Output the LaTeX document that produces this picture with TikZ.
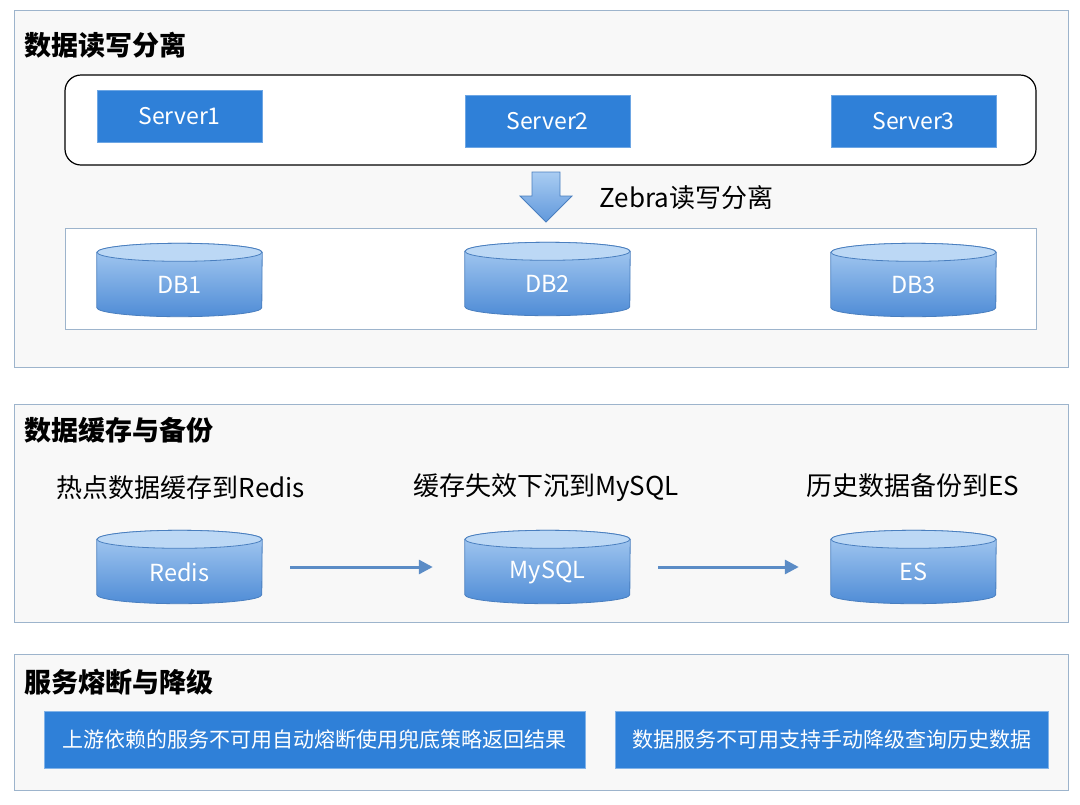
\documentclass[tikz,border=0pt]{standalone}
\usepackage{fontspec}
\setmainfont{Noto Sans CJK SC}
\usetikzlibrary{arrows.meta}
\definecolor{panelbd}{HTML}{9DB4CC}
\definecolor{panelbg}{HTML}{F8F8F8}
\definecolor{srvblue}{HTML}{2F80D8}
\definecolor{cyltopc}{HTML}{BCD8F5}
\definecolor{cylhi}{HTML}{A9CCF2}
\definecolor{cyllo}{HTML}{4F8CD6}
\definecolor{cylbd}{HTML}{4A7FBF}
\definecolor{arrc}{HTML}{5B8CC6}
\tikzset{
 panel/.style={draw=panelbd,fill=panelbg,line width=1pt},
 ptitle/.style={anchor=west,font=\fontsize{27}{30}\selectfont\bfseries},
 srv/.style={fill=srvblue,draw=srvblue!70!white,text=white,minimum width=165pt,minimum height=52pt,font=\fontsize{23}{26}\selectfont},
 cylnode/.style={minimum width=165pt,minimum height=73pt},
 cyltxt/.style={text=white,font=\fontsize{23.5}{26}\selectfont},
 lbl/.style={font=\fontsize{26}{30}\selectfont},
 bluebtn/.style={fill=srvblue,draw=srvblue!60!white,text=white,font=\fontsize{21}{24}\selectfont,minimum height=57pt,inner xsep=4pt},
 flow/.style={draw=arrc,line width=3pt,-{Triangle[length=14pt,width=14pt]}}
}
\newcommand\cylbg[1]{%
 \shade[top color=cylhi,bottom color=cyllo,draw=cylbd,line width=0.8pt]
  ([yshift=-9pt]#1.north west) -- ([yshift=9pt]#1.south west)
  arc[start angle=180,end angle=360,x radius=82.5pt,y radius=9pt]
  -- ([yshift=-9pt]#1.north east)
  arc[start angle=0,end angle=180,x radius=82.5pt,y radius=9pt] -- cycle;
 \filldraw[fill=cyltopc,draw=cylbd,line width=0.8pt] ([yshift=-9pt]#1.north) ellipse[x radius=82.5pt,y radius=9pt];}
\begin{document}
\begin{tikzpicture}[x=1pt,y=-1pt]
\useasboundingbox[fill=white] (0,0) rectangle (1080,804);
% panel 1
\draw[panel] (14,10) rectangle (1068,367);
\node[ptitle] (t1) at (21,45) {数据读写分离};
\draw[black,line width=1.2pt,rounded corners=16pt,fill=white] (65,75) rectangle (1036,165);
\node[srv] (s1) at (179.5,116) {Server1};
\node[srv] (s2) at (547.5,121) {Server2};
\node[srv] (s3) at (913.5,121) {Server3};
\shade[top color=cylhi,bottom color=cyllo!80!cylhi,draw=cylbd,line width=0.8pt]
 (532,172) -- (560,172) -- (560,196) -- (572,196) -- (546,222) -- (520,196) -- (532,196) -- cycle;
\node[lbl,anchor=west] (zl) at (596,198) {Zebra读写分离};
\draw[draw=panelbd,fill=white,line width=1pt] (65,228) rectangle (1036,329);
\node[cylnode] (db1) at (179.5,280) {};
\node[cylnode] (db2) at (547.5,279) {};
\node[cylnode] (db3) at (913.5,280) {};
\cylbg{db1}\cylbg{db2}\cylbg{db3}
\node[cyltxt] at ([yshift=-5pt]db1.center) {DB1};
\node[cyltxt] at ([yshift=-5pt]db2.center) {DB2};
\node[cyltxt] at ([yshift=-5pt]db3.center) {DB3};
% panel 2
\draw[panel] (14,404) rectangle (1068,622);
\node[ptitle] (t2) at (21,430) {数据缓存与备份};
\node[lbl] (l1) at (181,488) {热点数据缓存到Redis};
\node[lbl] (l2) at (546,488) {缓存失效下沉到MySQL};
\node[lbl] (l3) at (913,486) {历史数据备份到ES};
\node[cylnode] (rd) at (179.5,567) {};
\node[cylnode] (my) at (547.5,567) {};
\node[cylnode] (es) at (913.5,567) {};
\cylbg{rd}\cylbg{my}\cylbg{es}
\node[cyltxt] at ([yshift=-5pt]rd.center) {Redis};
\node[cyltxt] at ([yshift=-5pt]my.center) {MySQL};
\node[cyltxt] at ([yshift=-5pt]es.center) {ES};
\draw[flow] ([xshift=28pt]rd.east) -- ([xshift=-32pt]my.west);
\draw[flow] ([xshift=28pt]my.east) -- ([xshift=-32pt]es.west);
% panel 3
\draw[panel] (14,654) rectangle (1068,790);
\node[ptitle] (t3) at (21,682) {服务熔断与降级};
\node[bluebtn,minimum width=541pt] (b1) at (314.5,739.5) {上游依赖的服务不可用自动熔断使用兜底策略返回结果};
\node[bluebtn,minimum width=433pt] (b2) at (831.5,739.5) {数据服务不可用支持手动降级查询历史数据};
\end{tikzpicture}
\end{document}
